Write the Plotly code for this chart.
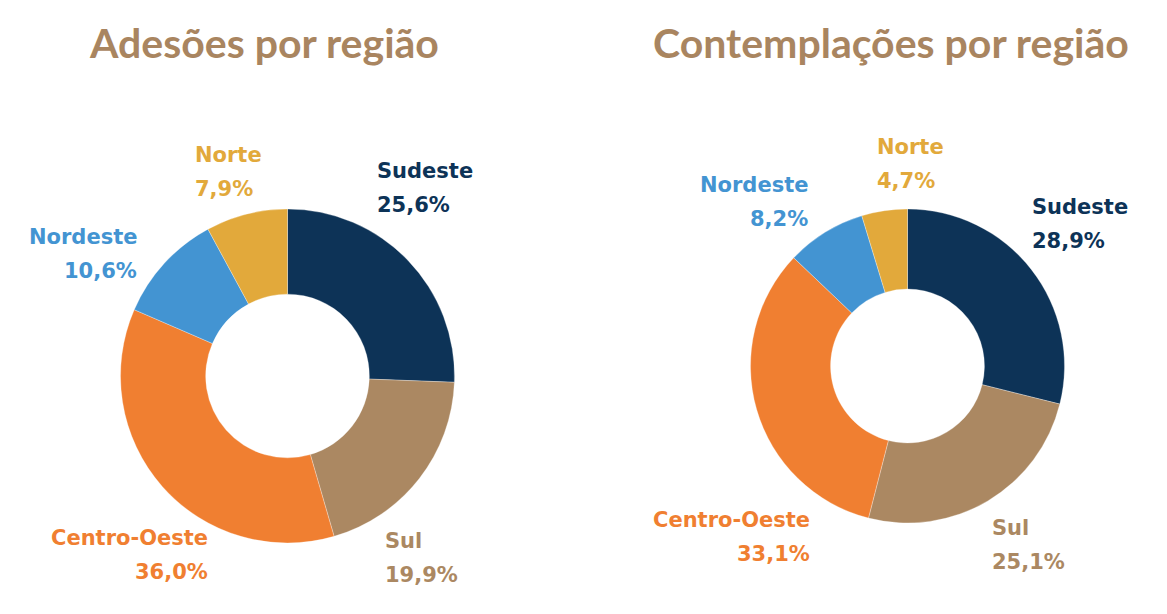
import plotly.graph_objects as go

W, H = 1167, 614

regioes = ['Sudeste', 'Sul', 'Centro-Oeste', 'Nordeste', 'Norte']
adesoes = [25.6, 19.9, 36.0, 10.6, 7.9]
contemplacoes = [28.9, 25.1, 33.1, 8.2, 4.7]
titulos = ['Adesões por região', 'Contemplações por região']

cores = ['#0D3357', '#AB8862', '#F07F31', '#4394D2', '#E2A93B']
cor_titulo = '#A98560'

# pixel boxes of each donut (left, right, top, bottom)
caixas = [(120, 455, 209, 543), (750, 1065, 209, 523)]

# label anchors in pixels: (x, y of name line, xanchor)
rotulos_pos = [
    [(375, 171, 'left'), (383, 541, 'left'), (210, 538, 'right'),
     (139, 237, 'right'), (193, 155, 'left')],
    [(1030, 207, 'left'), (990, 528, 'left'), (812, 520, 'right'),
     (810, 185, 'right'), (875, 147, 'left')],
]
titulo_pos = [(264, 42), (891, 42)]


def fmt(v):
    return f'{v:.1f}'.replace('.', ',') + '%'


def px(x, y):
    return x / W, 1 - y / H


fig = go.Figure()
anotacoes = []
for k, valores in enumerate([adesoes, contemplacoes]):
    x0, x1, y0, y1 = caixas[k]
    fig.add_trace(go.Pie(
        labels=regioes,
        values=valores,
        hole=0.49,
        sort=False,
        direction='clockwise',
        rotation=0,
        marker=dict(colors=cores, line=dict(color='white', width=0.3)),
        textinfo='none',
        hoverinfo='label+percent',
        domain=dict(x=[x0 / W, x1 / W], y=[1 - y1 / H, 1 - y0 / H]),
    ))
    for i, reg in enumerate(regioes):
        lx, ly, anc = rotulos_pos[k][i]
        for j, txt in enumerate([reg, fmt(valores[i])]):
            ax, ay = px(lx, ly + j * 34)
            anotacoes.append(dict(
                x=ax, y=ay, xref='paper', yref='paper', text=txt,
                showarrow=False, xanchor=anc, yanchor='middle',
                font=dict(family='DejaVu Sans', size=21, color=cores[i], weight='bold'),
            ))
    tx, ty = px(*titulo_pos[k])
    anotacoes.append(dict(
        x=tx, y=ty, xref='paper', yref='paper', text=titulos[k],
        showarrow=False, xanchor='center', yanchor='middle',
        font=dict(family='Lato', size=41, color=cor_titulo, weight='bold'),
    ))

fig.update_layout(
    width=W, height=H,
    margin=dict(l=0, r=0, t=0, b=0),
    paper_bgcolor='white', plot_bgcolor='white',
    showlegend=False,
    annotations=anotacoes,
)

# the page has a default 8px body margin; drop it so pixels line up
fig.write_html('out.html', config={'displayModeBar': False},
               post_script="document.body.style.margin='0px';")
